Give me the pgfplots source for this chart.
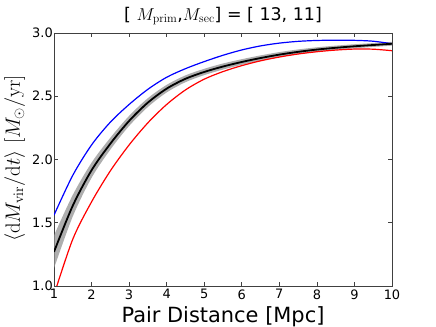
\documentclass[border=0pt]{standalone}
\usepackage[no-math]{fontspec}
\setmainfont{DejaVu Sans}
\usepackage{pgfplots}
\usepackage{pgfplotstable}
\pgfplotsset{compat=1.18}
\usepgfplotslibrary{fillbetween}

% x, mean, band half-width
\pgfplotstableread{
x    y      d
1    1.27   0.13
1.5  1.635  0.085
2    1.915  0.06
2.5  2.125  0.047
3    2.305  0.04
3.5  2.45   0.035
4    2.56   0.03
4.5  2.638  0.027
5    2.692  0.025
5.5  2.735  0.024
6    2.771  0.022
6.5  2.802  0.021
7    2.829  0.02
7.5  2.851  0.019
8    2.869  0.018
8.5  2.883  0.017
9    2.895  0.016
9.5  2.905  0.015
10   2.915  0.015
}\meanrate

\pgfplotstableread{
x    y
1    1.56
1.5  1.875
2    2.115
2.5  2.295
3    2.435
3.5  2.555
4    2.65
4.5  2.718
5    2.774
5.5  2.824
6    2.866
6.5  2.898
7    2.92
7.5  2.934
8    2.941
8.5  2.943
9    2.942
9.5  2.935
10   2.915
}\bluerate

\pgfplotstableread{
x    y
1    0.93
1.5  1.37
2    1.665
2.5  1.91
3    2.115
3.5  2.29
4    2.435
4.5  2.55
5    2.635
5.5  2.695
6    2.742
6.5  2.78
7    2.81
7.5  2.834
8    2.852
8.5  2.865
9    2.873
9.5  2.872
10   2.86
}\redrate

\begin{document}
\begin{tikzpicture}
\begin{axis}[
    at={(0,0)}, anchor=south west,
    scale only axis,
    width=338bp, height=253bp,
    xmin=1, xmax=10, ymin=1, ymax=3,
    xtick={1,2,...,10},
    ytick={1,1.5,2,2.5,3},
    tick align=inside,
    major tick length=4bp,
    axis line style={black!75, line width=0.8bp},
    tick style={black!75, line width=0.6bp},
    /pgf/number format/assume math mode=true,
    yticklabel style={inner xsep=1bp, /pgf/number format/.cd, fixed, fixed zerofill, precision=1},
    ticklabel style={font=\fontsize{13}{13}\selectfont},
    xlabel={Pair Distance [Mpc]},
    xlabel style={font=\fontsize{21}{21}\selectfont, at={(axis description cs:0.5,0)}, anchor=base, yshift=-36bp},
    ylabel={$\langle \mathrm{d}M_{\mathrm{vir}}/\mathrm{d}t\rangle\ [M_\odot/\mathrm{yr}]$},
    ylabel style={font=\fontsize{20}{20}\selectfont, at={(axis description cs:-0.116,0.505)}, anchor=center},
    title={[ $M_{\mathrm{prim}}$,$M_{\mathrm{sec}}$] = [ 13, 11]},
    title style={font=\fontsize{17.5}{17.5}\selectfont, at={(axis description cs:0.5,1)}, anchor=base, yshift=7bp},
    clip=true,
]
\addplot[draw=none, name path=up, forget plot, smooth] table[x=x, y expr=\thisrow{y}+\thisrow{d}] {\meanrate};
\addplot[draw=none, name path=lo, forget plot, smooth] table[x=x, y expr=\thisrow{y}-\thisrow{d}] {\meanrate};
\addplot[gray!85, opacity=0.75, forget plot] fill between[of=up and lo];
\addplot[blue, line width=1.2bp, smooth] table[x=x, y=y] {\bluerate};
\addplot[red, line width=1.2bp, smooth] table[x=x, y=y] {\redrate};
\addplot[black, line width=1.8bp, smooth] table[x=x, y=y] {\meanrate};
\end{axis}
\pgfresetboundingbox
\path[use as bounding box] (-54bp,-41bp) rectangle (382bp,286bp);
\end{tikzpicture}
\end{document}
